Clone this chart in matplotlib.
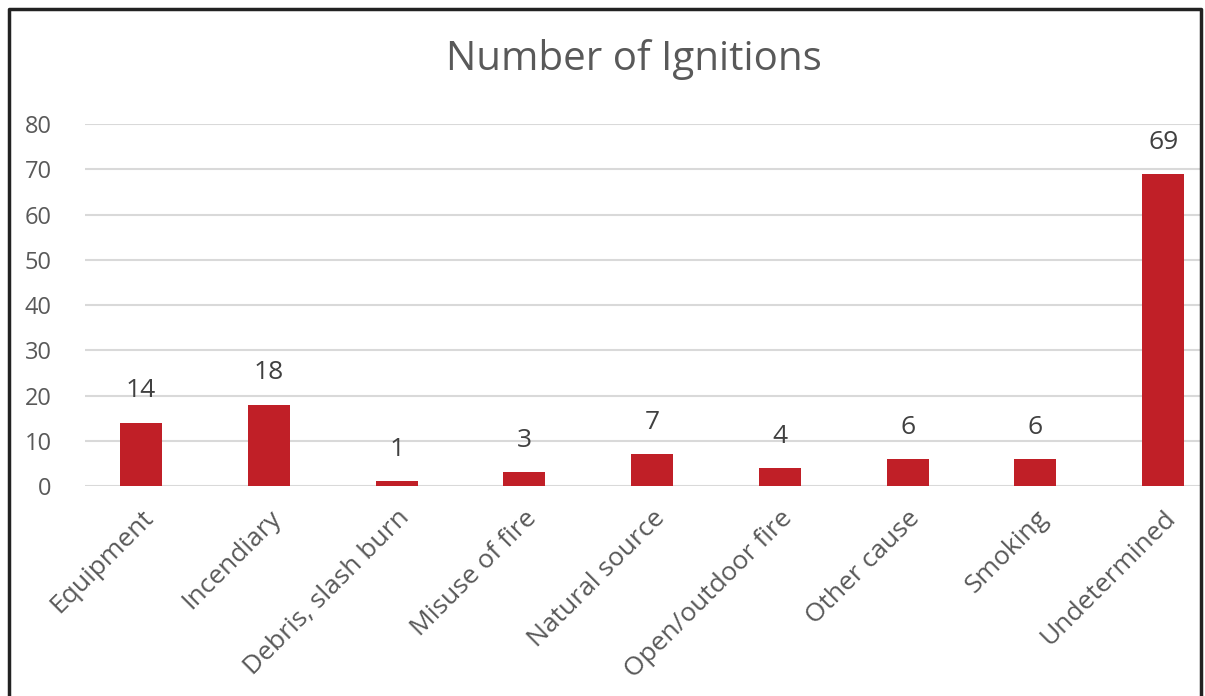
import matplotlib
matplotlib.use("Agg")
import matplotlib.pyplot as plt
import matplotlib.transforms as mtransforms
from matplotlib.lines import Line2D

causes = ["Equipment", "Incendiary", "Debris, slash burn", "Misuse of fire",
          "Natural source", "Open/outdoor fire", "Other cause", "Smoking",
          "Undetermined"]
counts = [14, 18, 1, 3, 7, 4, 6, 6, 69]
y_ticks = [0, 10, 20, 30, 40, 50, 60, 70, 80]

plt.rcParams['font.family'] = ['Open Sans', 'DejaVu Sans']
grey = '#595959'
bar_color = '#C01F27'

fig = plt.figure(figsize=(12.05, 6.96), dpi=100)
ax = fig.add_axes([0.0705, 0.3017, 0.9255, 0.5201])

x = range(len(causes))
bars = ax.bar(x, counts, width=0.33, color=bar_color, zorder=3)
for b, v in zip(bars, counts):
    ax.text(b.get_x() + b.get_width() / 2, v + 7, str(v), ha='center',
            va='center', fontsize=19, color='#404040')

ax.set_xlim(-0.44, 8.29)
ax.set_ylim(0, 80)
ax.set_yticks(y_ticks)
ax.yaxis.grid(True, color='#D9D9D9', linewidth=1.5, zorder=0)
ax.set_xticks(list(x))
ax.set_xticklabels(causes, rotation=45, ha='right', rotation_mode='anchor',
                   fontsize=19, color=grey)
shift = mtransforms.ScaledTranslation(9 / 100, 0, fig.dpi_scale_trans)
for lab in ax.get_xticklabels():
    lab.set_transform(lab.get_transform() + shift)
ax.tick_params(axis='y', labelsize=17, labelcolor=grey, length=0, pad=24)
ax.tick_params(axis='x', length=0, pad=14)
for s in ax.spines.values():
    s.set_visible(False)

fig.text(0.526, 0.914, "Number of Ignitions", ha='center', va='center',
         fontsize=29, color=grey)

# frame around the chart (left, top, right)
fig.add_artist(Line2D([0.0075, 0.0075, 0.9965, 0.9965], [0.0, 0.9875, 0.9875, 0.0],
                      transform=fig.transFigure, color='#222222', linewidth=2.5))

plt.savefig("out.png", dpi=100)
